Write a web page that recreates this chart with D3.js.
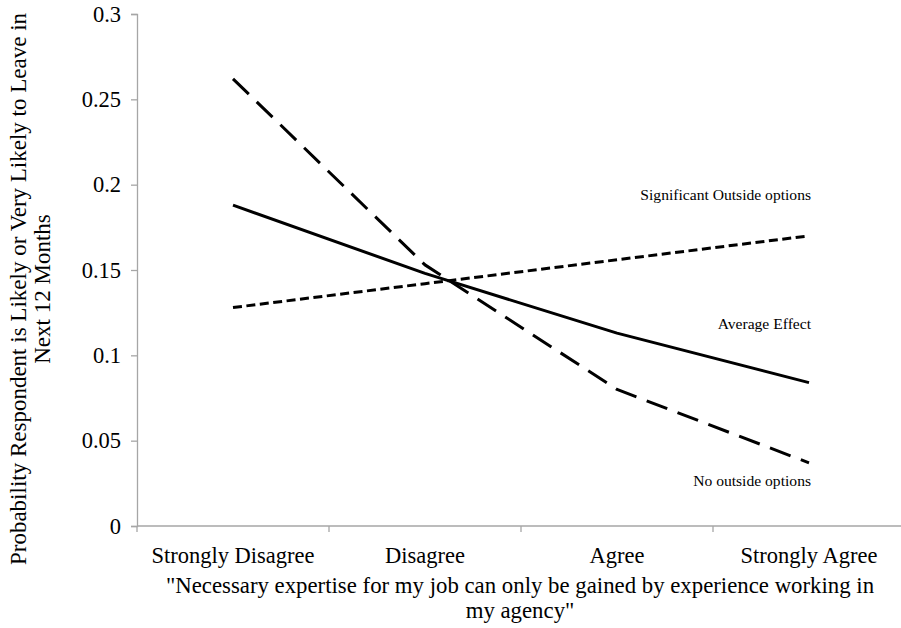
<!DOCTYPE html>
<html>
<head>
<meta charset="utf-8">
<script src="https://cdn.jsdelivr.net/npm/d3@7/dist/d3.min.js"></script>
<style>
  html, body { margin: 0; padding: 0; background: #fff; }
  svg { display: block; font-family: "Liberation Serif", "Times New Roman", serif; }
</style>
</head>
<body>
<svg id="chart" width="901" height="628"></svg>
<script>
const categories = ["Strongly Disagree", "Disagree", "Agree", "Strongly Agree"];
const significantOutside = [0.128, 0.142, 0.156, 0.170];
const averageEffect = [0.188, 0.148, 0.113, 0.084];
const noOutside = [0.262, 0.153, 0.080, 0.037];
const yTicks = [0, 0.05, 0.1, 0.15, 0.2, 0.25, 0.3];
const yTickLabels = ["0", "0.05", "0.1", "0.15", "0.2", "0.25", "0.3"];

const series = [
  { name: "Significant Outside options", values: significantOutside, dash: "9,4.5", labelY: 195 },
  { name: "Average Effect", values: averageEffect, dash: null, labelY: 324 },
  { name: "No outside options", values: noOutside, dash: "22,11", labelY: 481 }
];

const svg = d3.select("#chart");
const mLeft = 137, mRight = 905, mTop = 14, mBottom = 526;

const x = d3.scaleBand().domain(categories).range([mLeft, mRight]);
const y = d3.scaleLinear().domain([0, 0.3]).range([mBottom, mTop]);

const axisColor = "#a6a6a6";
const bigFont = 22.5;

// Y axis
const yAxis = svg.append("g").attr("transform", `translate(${mLeft},0)`)
  .call(d3.axisLeft(y).tickValues(yTicks).tickFormat((d, i) => yTickLabels[i]).tickSize(6).tickPadding(10));
yAxis.select(".domain").attr("stroke", axisColor).attr("stroke-width", 1.3);
yAxis.selectAll(".tick line").attr("stroke", axisColor).attr("stroke-width", 1.3);
yAxis.selectAll(".tick text").attr("font-size", bigFont).attr("fill", "#000")
  .attr("font-family", "Liberation Serif, Times New Roman, serif");

// X axis
const xAxisG = svg.append("g").attr("transform", `translate(0,${mBottom})`);
xAxisG.append("line").attr("x1", mLeft).attr("x2", mRight).attr("y1", 0).attr("y2", 0)
  .attr("stroke", axisColor).attr("stroke-width", 1.3);
const boundaries = categories.map(c => x(c)).concat([mRight]);
xAxisG.selectAll("line.tk").data(boundaries).enter().append("line").attr("class", "tk")
  .attr("x1", d => d).attr("x2", d => d).attr("y1", 0).attr("y2", 6)
  .attr("stroke", axisColor).attr("stroke-width", 1.3);
xAxisG.selectAll("text.cat").data(categories).enter().append("text").attr("class", "cat")
  .attr("x", d => x(d) + x.bandwidth() / 2).attr("y", 37)
  .attr("text-anchor", "middle").attr("font-size", bigFont).text(d => d);

// Lines
const line = d3.line()
  .x((d, i) => x(categories[i]) + x.bandwidth() / 2)
  .y(d => y(d));

svg.selectAll("path.series").data(series).enter().append("path").attr("class", "series")
  .attr("d", d => line(d.values))
  .attr("fill", "none").attr("stroke", "#000").attr("stroke-width", 3)
  .attr("stroke-linejoin", "round")
  .attr("stroke-dasharray", d => d.dash);

// Series labels
const lastX = x(categories[categories.length - 1]) + x.bandwidth() / 2;
svg.selectAll("text.lbl").data(series).enter().append("text").attr("class", "lbl")
  .attr("x", lastX + 2).attr("y", d => d.labelY).attr("dy", "0.35em")
  .attr("text-anchor", "end").attr("font-size", 15.6).text(d => d.name);

// Axis titles
svg.append("text").attr("text-anchor", "middle").attr("font-size", 23)
  .attr("transform", "translate(26,289) rotate(-90)")
  .text("Probability Respondent is Likely or Very Likely to Leave in");
svg.append("text").attr("text-anchor", "middle").attr("font-size", 23)
  .attr("transform", "translate(50,289) rotate(-90)")
  .text("Next 12 Months");

svg.append("text").attr("text-anchor", "middle").attr("font-size", 22.8)
  .attr("x", 520).attr("y", 593)
  .text("\"Necessary expertise for my job can only be gained by experience working in");
svg.append("text").attr("text-anchor", "middle").attr("font-size", 22.8)
  .attr("x", 520).attr("y", 618)
  .text("my agency\"");
</script>
</body>
</html>
